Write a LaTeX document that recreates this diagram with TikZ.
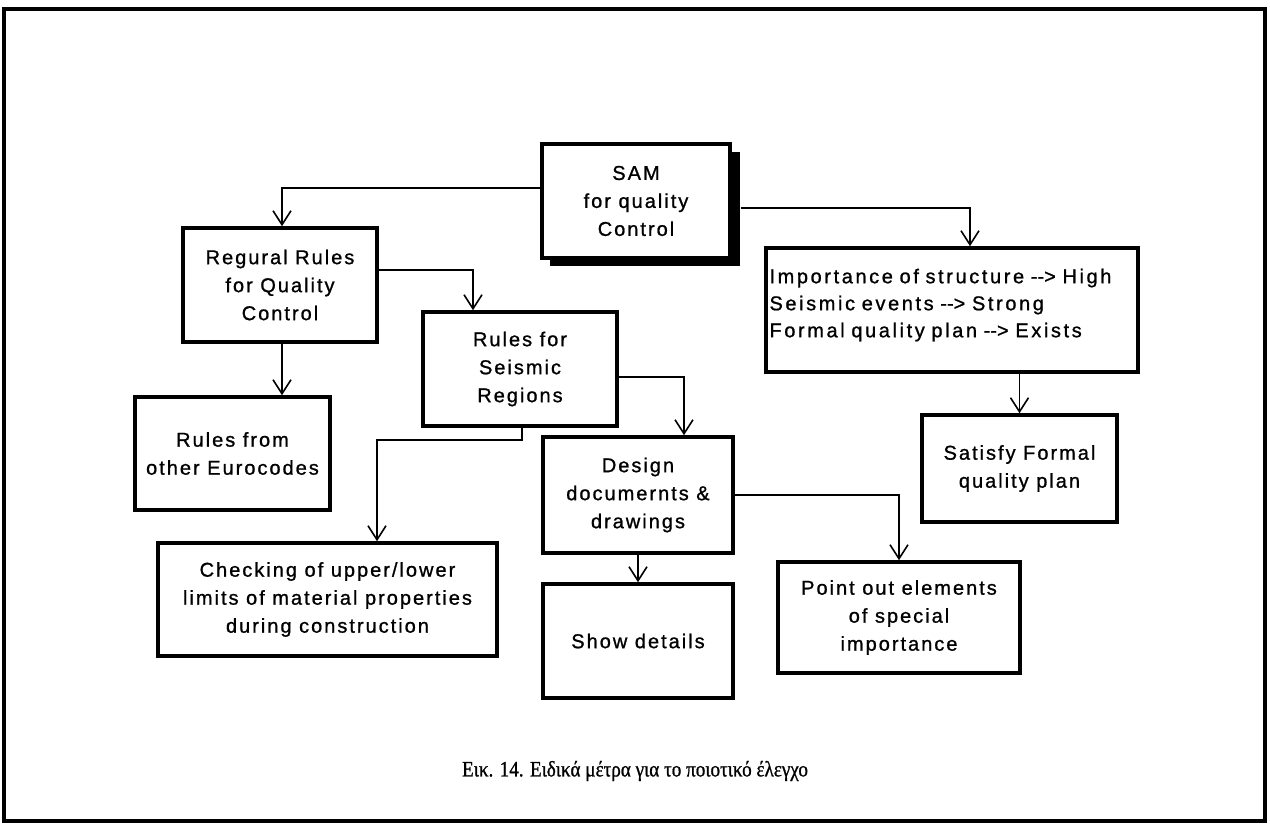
\documentclass[tikz,border=0pt]{standalone}
\usepackage{fontspec}
\usepackage{graphicx}
\usetikzlibrary{arrows.meta,calc}
\newfontfamily\boxfont[LetterSpace=10,FakeBold=1]{Liberation Sans}
\newfontfamily\widebox[LetterSpace=13,FakeBold=1]{Liberation Sans}
\newfontfamily\capfont[FakeBold=1]{Liberation Serif}
\newcommand\toarrow{-\kern0pt-\kern0pt>}
\begin{document}
\begin{tikzpicture}[x=1pt,y=-1pt,
  box/.style={draw=black,line width=3.6pt,fill=white,rectangle,inner sep=0pt,
    align=center,font=\boxfont\fontsize{20}{28}\selectfont},
  conn/.style={draw=black,line width=1.8pt,
    -{Straight Barb[length=14pt,width=18pt,line width=1.6pt]}}]
\useasboundingbox (0,0) rectangle (1270,827);
% outer frame
\draw[line width=4pt] (4,9) rectangle (1265,821);

% shadow behind the top box
\fill[black] (550,152) rectangle (740,266);

% boxes
\node[box,minimum width=188pt,minimum height=114pt] (sam) at (636,201) {SAM\\for quality\\Control};
\node[box,minimum width=194pt,minimum height=114pt] (reg) at (280,285) {Regural Rules\\for Quality\\Control};
\node[box,minimum width=195pt,minimum height=113pt] (euro) at (232.5,453.5) {Rules from\\other Eurocodes};
\node[box,minimum width=194pt,minimum height=114pt] (seis) at (520,369) {Rules for\\Seismic\\Regions};
\node[box,minimum width=190pt,minimum height=116pt] (design) at (638,495) {Design\\documernts \&\\drawings};
\node[box,minimum width=339pt,minimum height=113pt] (check) at (327.5,599.5) {Checking of upper/lower\\limits of material properties\\during construction};
\node[box,minimum width=190pt,minimum height=114pt] (show) at (638,641) {Show details};
\node[box,minimum width=372pt,minimum height=124pt,text width=365pt,align=left,inner xsep=3pt,
  font=\widebox\fontsize{20}{27}\selectfont] (imp) at (952,310)
  {Importance of structure \toarrow{} High\\Seismic events \toarrow{} Strong\\Formal quality plan \toarrow{} Exists\\[-13pt]\mbox{}};
\node[box,minimum width=195pt,minimum height=107pt] (sat) at (1019.5,468.5) {Satisfy Formal\\quality plan};
\node[box,minimum width=242pt,minimum height=111pt] (point) at (899,617.5) {Point out elements\\of special\\importance};

% connectors
\coordinate (sw) at ($(sam.west)+(0,-13)$);
\coordinate (se) at ($(sam.east)+(9,7)$);
\coordinate (re) at ($(reg.east)+(0,-15)$);
\coordinate (rs) at ($(reg.south)+(2,0)$);
\coordinate (ee) at ($(seis.east)+(0,8)$);
\coordinate (es) at ($(seis.south)+(2,0)$);
\coordinate (bend) at (377,440);
\draw[conn] (sw) -| ($(reg.north)+(2,0)$);
\draw[conn] (se) -| ($(imp.north)+(18,0)$);
\draw[conn] (re) -| ($(seis.north)+(-47,0)$);
\draw[conn] (rs) -- (rs |- euro.north);
\draw[conn] (ee) -| ($(design.north)+(46,0)$);
\draw[conn] (es) |- (bend) -- (bend |- check.north);
\draw[conn] (design.south) -- (show.north);
\draw[conn] (design.east) -| (point.north);
\draw[conn] (sat.north |- imp.south) -- (sat.north);

% caption
\node[font=\capfont\fontsize{22}{26}\selectfont] (cap) at (635,771)
  {\scalebox{0.87}[1]{Εικ. 14. Ειδικά μέτρα για το ποιοτικό έλεγχο}};
\end{tikzpicture}
\end{document}
